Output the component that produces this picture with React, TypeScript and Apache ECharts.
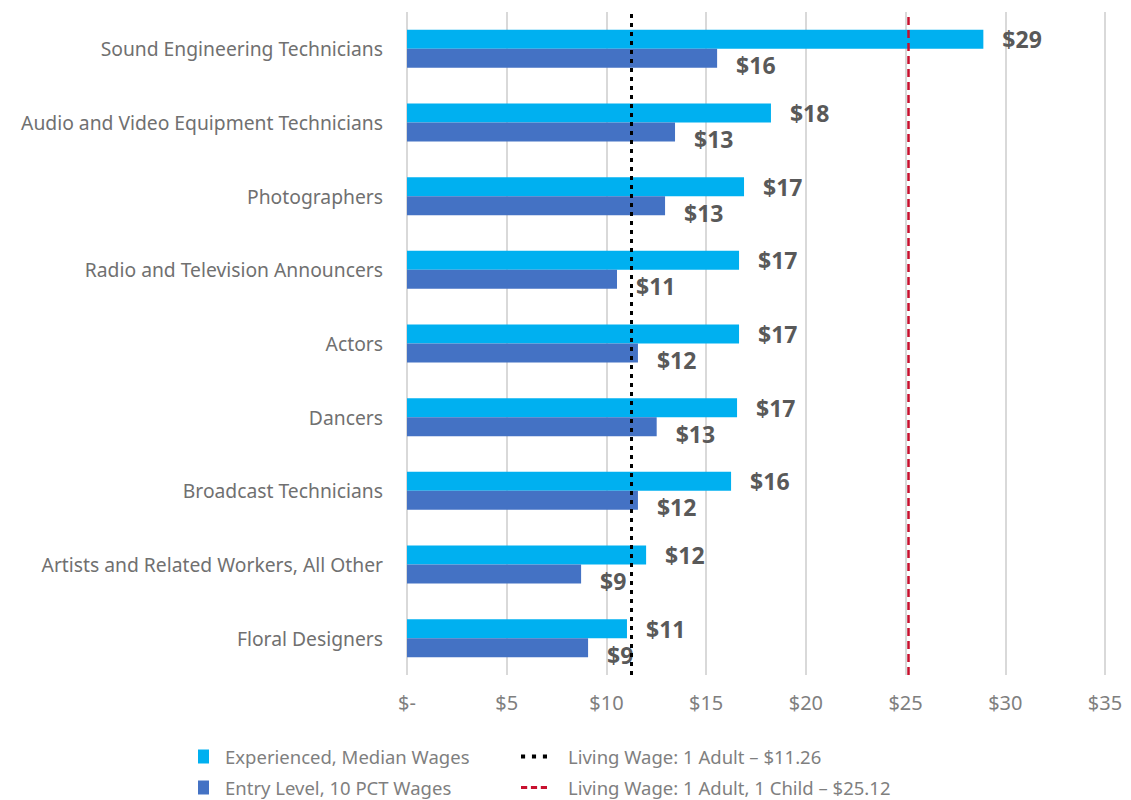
import React, { useEffect, useRef } from "react";
import * as echarts from "echarts";

const categories = [
  "Sound Engineering Technicians",
  "Audio and Video Equipment Technicians",
  "Photographers",
  "Radio and Television Announcers",
  "Actors",
  "Dancers",
  "Broadcast Technicians",
  "Artists and Related Workers, All Other",
  "Floral Designers",
];
const experienced = [28.9, 18.25, 16.9, 16.65, 16.65, 16.55, 16.25, 11.99, 11.03];
const entry = [15.55, 13.44, 12.94, 10.53, 11.58, 12.52, 11.58, 8.73, 9.08];
const livingAdult = 11.26;
const livingChild = 25.12;

const seriesNames = {
  exp: "Experienced, Median Wages",
  entry: "Entry Level, 10 PCT Wages",
  adult: "Living Wage: 1 Adult – $11.26",
  child: "Living Wage: 1 Adult, 1 Child – $25.12",
};

const FONT = "'Noto Sans', sans-serif";
const DOTTED_ICON = "path://M0,0h3v3h-3z M8,0h3v3h-3z M16,0h3v3h-3z";
const DASHED_ICON = "path://M0,0h5v2.5h-5z M8,0h5v2.5h-5z M16,0h5v2.5h-5z";

export default function App() {
  const ref = useRef<HTMLDivElement>(null);
  useEffect(() => {
    if (!ref.current) return;
    const chart = echarts.init(ref.current, undefined, { renderer: "svg" });
    const cats = [...categories].reverse();
    const expR = [...experienced].reverse();
    const entR = [...entry].reverse();
    const labelFmt = (p: any) => "$" + Math.round(p.value);
    const barLabel = {
      show: true,
      position: "right",
      distance: 19,
      formatter: labelFmt,
      color: "#595959",
      fontWeight: "bold",
      fontSize: 23,
      fontFamily: FONT,
    };
    const legendText = { color: "#7f7f7f", fontSize: 18.5, fontFamily: FONT };
    chart.setOption({
      animation: false,
      textStyle: { fontFamily: FONT },
      grid: { left: 407, right: 26, top: 12, bottom: 125, containLabel: false },
      xAxis: {
        type: "value",
        min: 0,
        max: 35,
        interval: 5,
        axisLine: { show: false },
        axisTick: { show: false },
        splitLine: { show: true, lineStyle: { color: "#d9d9d9", width: 2 } },
        axisLabel: {
          color: "#7f7f7f",
          fontSize: 20,
          margin: 17,
          fontFamily: FONT,
          formatter: (v: number) => (v === 0 ? "$-" : "$" + v),
        },
      },
      yAxis: {
        type: "category",
        data: cats,
        axisLine: { show: false },
        axisTick: { show: false },
        axisLabel: {
          color: "#707070",
          fontSize: 19.3,
          margin: 24,
          fontFamily: FONT,
          padding: [4, 0, 0, 0],
        },
      },
      legend: [
        {
          data: [seriesNames.exp, seriesNames.entry],
          orient: "vertical",
          left: 198,
          top: 747,
          height: 60,
          padding: 0,
          itemGap: 12,
          itemWidth: 11,
          itemHeight: 14,
          icon: "rect",
          textStyle: { ...legendText, padding: [0, 0, 0, 11] },
        },
        {
          data: [
            { name: seriesNames.adult, icon: DOTTED_ICON },
            { name: seriesNames.child, icon: DASHED_ICON },
          ],
          orient: "vertical",
          left: 521,
          top: 747,
          height: 60,
          padding: 0,
          itemGap: 12,
          itemWidth: 26,
          itemHeight: 14,
          textStyle: { ...legendText, padding: [0, 0, 0, 16] },
        },
      ],
      series: [
        {
          name: seriesNames.exp,
          type: "bar",
          data: expR,
          barWidth: 19,
          barGap: "0%",
          itemStyle: { color: "#00b0f0" },
          label: barLabel,
        },
        {
          name: seriesNames.entry,
          type: "bar",
          data: entR,
          barWidth: 19,
          barGap: "0%",
          itemStyle: { color: "#4472c4" },
          label: { ...barLabel, offset: [0, 7] },
        },
        {
          name: seriesNames.adult,
          type: "line",
          data: [],
          symbol: "none",
          itemStyle: { color: "#000000" },
          lineStyle: { color: "#000000", type: "dotted", width: 3 },
          markLine: {
            silent: true,
            symbol: "none",
            label: { show: false },
            lineStyle: { color: "#000000", type: [4, 5], width: 3 },
            data: [{ xAxis: livingAdult }],
          },
        },
        {
          name: seriesNames.child,
          type: "line",
          data: [],
          symbol: "none",
          itemStyle: { color: "#c8102e" },
          lineStyle: { color: "#c8102e", type: "dashed", width: 2.5 },
          markLine: {
            silent: true,
            symbol: "none",
            label: { show: false },
            lineStyle: { color: "#c8102e", type: [8, 5], width: 2.5 },
            data: [{ xAxis: livingChild }],
          },
        },
      ],
    });
    return () => chart.dispose();
  }, []);
  return (
    <div
      ref={ref}
      style={{ position: "absolute", left: 0, top: 0, width: 1131, height: 800 }}
    />
  );
}
